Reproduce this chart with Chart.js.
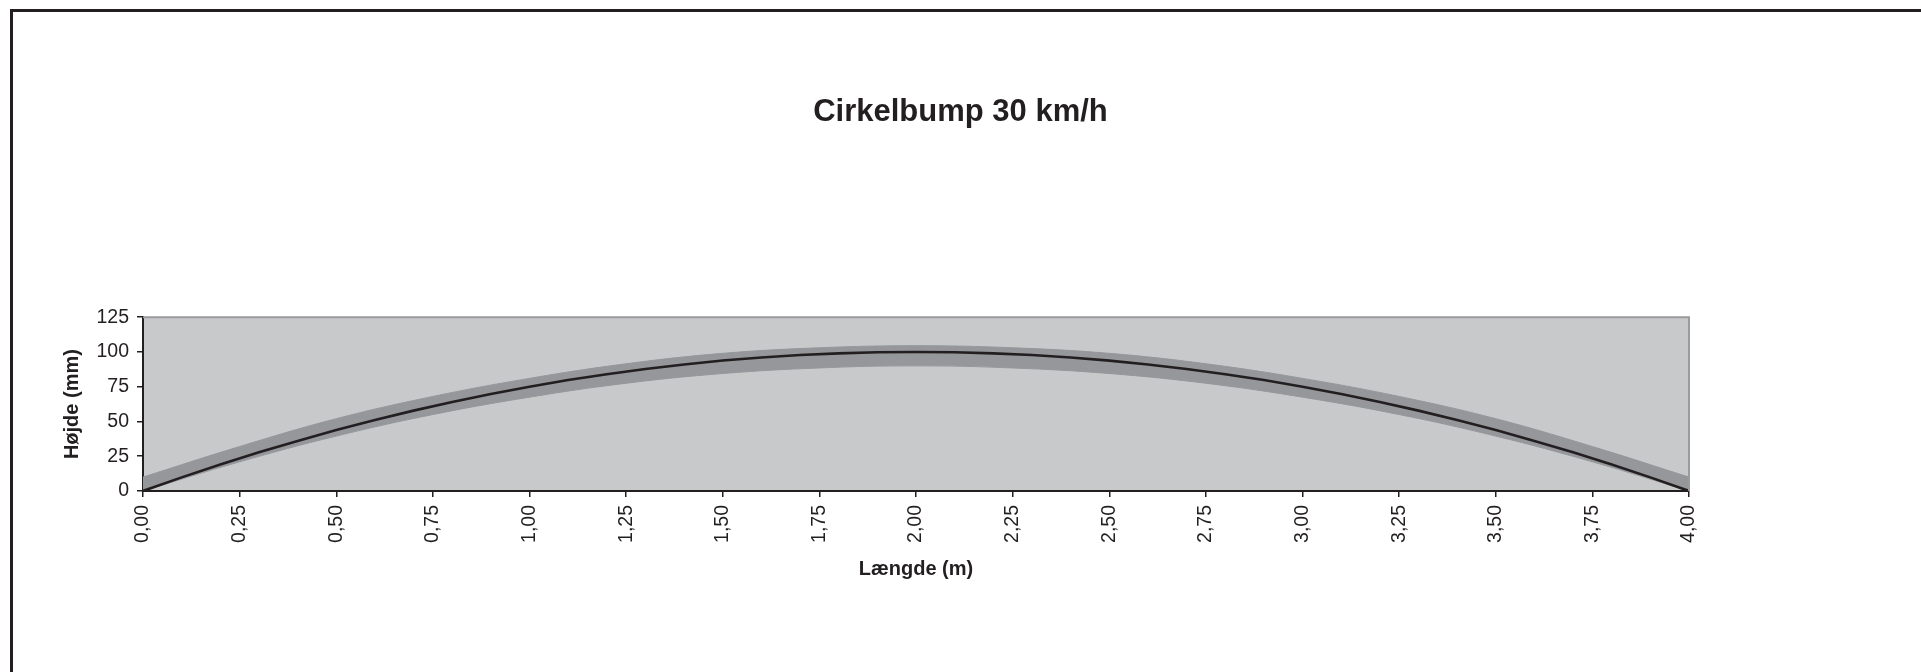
<!DOCTYPE html>
<html>
<head>
<meta charset="utf-8">
<title>Cirkelbump 30 km/h</title>
<script src="https://cdn.jsdelivr.net/npm/chart.js@4/dist/chart.umd.min.js"></script>
<style>
  html, body { margin: 0; padding: 0; background: #fff; }
  .wrap { position: relative; width: 1921px; height: 672px; }
</style>
</head>
<body>
<div class="wrap"><canvas id="bumpChart"></canvas></div>
<script>
// profile of the bump (black line), every 0.1 m
const lengthX = [0, 0.1, 0.2, 0.3, 0.4, 0.5, 0.6, 0.7, 0.8, 0.9, 1.0,
  1.1, 1.2, 1.3, 1.4, 1.5, 1.6, 1.7, 1.8, 1.9, 2.0,
  2.1, 2.2, 2.3, 2.4, 2.5, 2.6, 2.7, 2.8, 2.9, 3.0,
  3.1, 3.2, 3.3, 3.4, 3.5, 3.6, 3.7, 3.8, 3.9, 4.0];
const heightY = [0, 9.8, 19, 27.8, 36, 43.8, 51, 57.8, 64, 69.8, 75,
  79.8, 84, 87.8, 91, 93.8, 96, 97.8, 99, 99.8, 100,
  99.8, 99, 97.8, 96, 93.8, 91, 87.8, 84, 79.8, 75,
  69.8, 64, 57.8, 51, 43.8, 36, 27.8, 19, 9.8, 0];

// tolerance band (dark grey), every 0.25 m
const bandX = [0, 0.25, 0.5, 0.75, 1.0, 1.25, 1.5, 1.75, 2.0,
  2.25, 2.5, 2.75, 3.0, 3.25, 3.5, 3.75, 4.0];
const bandTop = [10, 32, 52, 68, 81, 91.5, 99, 103, 104.5,
  103, 99, 91.5, 81, 68, 52, 32, 10];
const bandBottom = [0, 21, 39.5, 55, 67.5, 77.5, 84.5, 88.5, 90,
  88.5, 84.5, 77.5, 67.5, 55, 39.5, 21, 0];

const yTicks = [0, 25, 50, 75, 100, 125];

const ink = "#231f20";
const fontFam = "'Liberation Sans', Arial, Helvetica, sans-serif";

function pts(xs, ys) {
  return xs.map(function (x, i) { return { x: x, y: ys[i] }; });
}

// page frame + plot background
const frameAndPlot = {
  id: "frameAndPlot",
  beforeDraw: function (chart) {
    const ctx = chart.ctx;
    const a = chart.chartArea;
    ctx.save();
    ctx.fillStyle = ink;
    ctx.fillRect(10, 9, chart.width - 10, 3);
    ctx.fillRect(10, 9, 3, chart.height - 9);
    ctx.fillStyle = "#c8c9cb";
    ctx.fillRect(a.left, a.top, a.right - a.left, a.bottom - a.top);
    ctx.restore();
  },
  afterDatasetsDraw: function (chart) {
    const ctx = chart.ctx;
    const a = chart.chartArea;
    ctx.save();
    ctx.strokeStyle = "#9a9b9d";
    ctx.lineWidth = 2;
    ctx.beginPath();
    ctx.moveTo(a.left, a.top);
    ctx.lineTo(a.right, a.top);
    ctx.lineTo(a.right, a.bottom);
    ctx.stroke();
    ctx.restore();
  }
};

new Chart("bumpChart", {
  type: "line",
  data: {
    datasets: [{
      label: "Cirkelbump",
      data: pts(lengthX, heightY),
      borderColor: ink,
      borderWidth: 2.6,
      pointRadius: 0,
      tension: 0,
      fill: false
    }, {
      label: "top",
      data: pts(bandX, bandTop),
      borderColor: "#96979a",
      borderWidth: 1,
      backgroundColor: "#96979a",
      pointRadius: 0,
      tension: 0.4,
      fill: "+1"
    }, {
      label: "bottom",
      data: pts(bandX, bandBottom),
      borderColor: "#96979a",
      borderWidth: 1,
      pointRadius: 0,
      tension: 0.4,
      fill: false
    }]
  },
  options: {
    responsive: true,
    maintainAspectRatio: false,
    animation: false,
    layout: { padding: { left: 0, right: 0, top: 0, bottom: 81 } },
    plugins: {
      legend: { display: false },
      tooltip: { enabled: false },
      title: {
        display: true,
        text: "Cirkelbump 30 km/h",
        color: ink,
        font: { family: fontFam, size: 31, weight: "bold" },
        padding: { top: 94, bottom: 186 }
      }
    },
    scales: {
      x: {
        type: "linear",
        min: 0,
        max: 4,
        afterFit: function (s) { s.height = 100; },
        afterBuildTicks: function (s) {
          s.ticks = bandX.map(function (v) { return { value: v }; });
        },
        ticks: {
          autoSkip: false,
          minRotation: 90,
          maxRotation: 90,
          padding: 8,
          color: ink,
          font: { family: fontFam, size: 19.5 },
          callback: function (v) { return Number(v).toFixed(2).replace(".", ","); }
        },
        grid: { drawOnChartArea: false, tickLength: 6, tickColor: ink, lineWidth: 1.5 },
        border: { display: true, color: ink, width: 2 },
        title: {
          display: true,
          text: "Længde (m)",
          color: ink,
          font: { family: fontFam, size: 20, weight: "bold" },
          padding: { top: 0, bottom: 10 }
        }
      },
      y: {
        min: 0,
        max: 125,
        afterFit: function (s) { s.width = 143; },
        afterBuildTicks: function (s) {
          s.ticks = yTicks.map(function (v) { return { value: v }; });
        },
        ticks: {
          padding: 8,
          color: ink,
          font: { family: fontFam, size: 19.5 }
        },
        grid: { drawOnChartArea: false, tickLength: 6, tickColor: ink, lineWidth: 1.5 },
        border: { display: true, color: ink, width: 2 },
        title: {
          display: true,
          text: "Højde (mm)",
          color: ink,
          font: { family: fontFam, size: 20, weight: "bold" },
          padding: { top: 60, bottom: 0 }
        }
      },
      // empty right-hand axis, only keeps the white space right of the plot
      yRight: {
        position: "right",
        min: 0,
        max: 125,
        afterFit: function (s) { s.width = 232; },
        ticks: { display: false },
        grid: { display: false },
        border: { display: false }
      }
    }
  },
  plugins: [frameAndPlot]
});
</script>
</body>
</html>
